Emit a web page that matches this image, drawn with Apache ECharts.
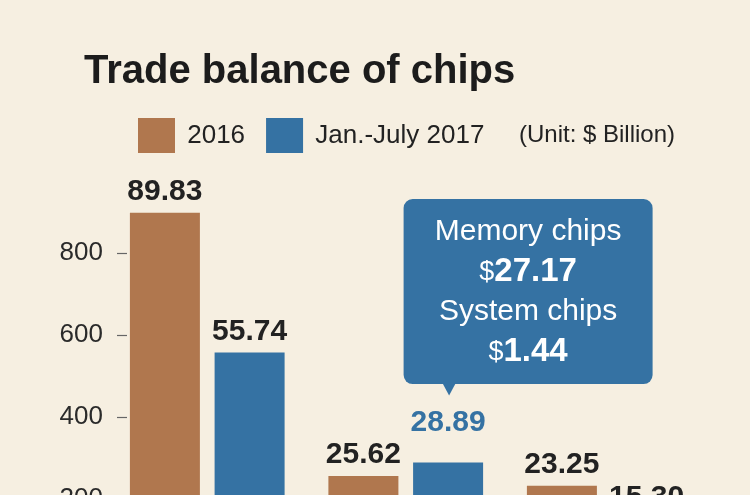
<!DOCTYPE html>
<html>
<head>
<meta charset="utf-8">
<script src="https://cdn.jsdelivr.net/npm/echarts@6/dist/echarts.min.js"></script>
<style>
  html, body { margin: 0; padding: 0; background: #f6efe1; }
  #chart { width: 750px; height: 495px; }
</style>
</head>
<body>
<div id="chart"></div>
<script>
// ---- data ----
const categories = ['Group 1', 'Group 2', 'Group 3'];
const seriesNames = ['2016', 'Jan.-July 2017'];
const values2016 = [89.83, 25.62, 23.25];
const values2017 = [55.74, 28.89, 15.30];
const tickValues = [20, 40, 60, 80];
const tickLabels = ['200', '400', '600', '800'];
const calloutNames = ['Memory chips', 'System chips'];
const calloutValues = [27.17, 1.44];
const highlightIndex = 1;

// ---- style ----
const FONT = "'Liberation Sans', Arial, Helvetica, sans-serif";
const BROWN = '#b0774e';
const BLUE = '#3572a3';
const TEXT = '#222222';

const chart = echarts.init(document.getElementById('chart'), null, { renderer: 'canvas' });

const labelBase = {
  show: true, position: 'top', distance: 6,
  fontFamily: FONT, fontSize: 30, fontWeight: 'bold', color: TEXT,
  formatter: p => p.value.toFixed(2)
};

const data2017 = values2017.map((v, i) => i === highlightIndex
  ? { value: v, label: { color: BLUE, distance: 25 } }
  : v);

const calloutText =
  '{m|' + calloutNames[0] + '}\n{d|$}{v|' + calloutValues[0].toFixed(2) + '}\n' +
  '{m|' + calloutNames[1] + '}\n{d|$}{v|' + calloutValues[1].toFixed(2) + '}';

const option = {
  backgroundColor: '#f6efe1',
  animation: false,
  title: [
    {
      text: 'Trade balance of chips', left: 84, top: 52, padding: 0,
      textStyle: { fontFamily: FONT, fontSize: 40, fontWeight: 'bold', color: '#1c1c1c' }
    },
    {
      text: '(Unit: $ Billion)', left: 519, top: 123, padding: 0,
      textStyle: { fontFamily: FONT, fontSize: 24, fontWeight: 'normal', color: TEXT }
    }
  ],
  legend: {
    data: seriesNames, left: 138, top: 118, padding: 0,
    icon: 'rect', itemWidth: 37, itemHeight: 35, itemGap: 21,
    formatter: n => ' ' + n,
    textStyle: { fontFamily: FONT, fontSize: 26, color: TEXT }
  },
  grid: { left: 108, right: 46.5, top: 171, bottom: -86, containLabel: false, outerBoundsMode: 'none' },
  xAxis: {
    type: 'category', data: categories,
    axisLine: { show: false }, axisTick: { show: false }, axisLabel: { show: false }
  },
  yAxis: {
    type: 'value', min: 0, max: 100, interval: 20, offset: -19,
    axisLine: { show: false },
    splitLine: { show: false },
    axisTick: { show: true, length: 10, customValues: tickValues, lineStyle: { color: '#666', width: 1.2 } },
    axisLabel: {
      customValues: tickValues, margin: 24,
      fontFamily: FONT, fontSize: 26, color: '#2a2a2a',
      formatter: v => { const i = tickValues.indexOf(v); return i >= 0 ? tickLabels[i] : ''; }
    }
  },
  series: [
    {
      name: seriesNames[0], type: 'bar', data: values2016,
      barWidth: 70, barGap: '21%',
      itemStyle: { color: BROWN },
      label: labelBase
    },
    {
      name: seriesNames[1], type: 'bar', data: data2017,
      barWidth: 70, barGap: '21%',
      itemStyle: { color: BLUE },
      label: labelBase,
      markPoint: {
        silent: true, animation: false,
        data: [
          {
            coord: [highlightIndex, values2017[highlightIndex]],
            symbol: 'triangle', symbolSize: [15, 14], symbolRotate: 180,
            symbolOffset: [1, -74],
            itemStyle: { color: BLUE },
            label: { show: false }
          },
          {
            coord: [highlightIndex, values2017[highlightIndex]],
            symbol: 'rect', symbolSize: 1,
            itemStyle: { color: 'rgba(0,0,0,0)' },
            label: {
              show: true, position: 'inside', offset: [80, -171],
              formatter: calloutText,
              backgroundColor: BLUE, borderRadius: 9,
              width: 249, padding: [13, 0, 12, 0], align: 'center',
              rich: {
                m: { fontFamily: FONT, fontSize: 30, color: '#fff', lineHeight: 40, align: 'center' },
                d: { fontFamily: FONT, fontSize: 27, color: '#fff', lineHeight: 40, align: 'center' },
                v: { fontFamily: FONT, fontSize: 33, fontWeight: 'bold', color: '#fff', lineHeight: 40, align: 'center' }
              }
            }
          }
        ]
      }
    }
  ]
};

chart.setOption(option);
</script>
</body>
</html>
